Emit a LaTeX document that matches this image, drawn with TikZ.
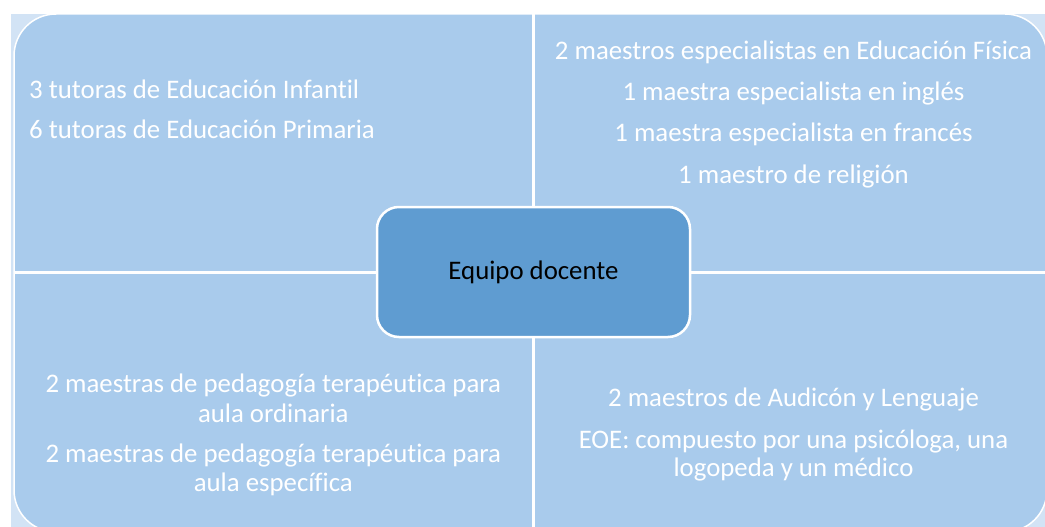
\documentclass[tikz,border=0pt]{standalone}
\usepackage{fontspec}
\setmainfont{Carlito}[Ligatures=NoCommon]
\definecolor{palebg}{HTML}{D2E3F5}
\definecolor{quadfill}{HTML}{A9CBEC}
\definecolor{centerfill}{HTML}{5F9CD1}
\tikzset{
  qtext/.style={anchor=base, text=white, inner sep=0pt, font=\fontsize{26.8}{30}\selectfont},
  qtextl/.style={qtext, anchor=base west},
  centerbox/.style={draw=white, line width=2.5pt, fill=centerfill, rounded corners=22pt,
    minimum width=313pt, minimum height=130pt, inner sep=0pt, text=black,
    font=\fontsize{26.8}{30}\selectfont},
}
\begin{document}
\begin{tikzpicture}[x=1pt,y=-1pt]
\useasboundingbox (0,0) rectangle (1045,527);
\clip (0,0) rectangle (1045,527);
\fill[palebg] (11,14) rectangle (1070,560);
\path[fill=quadfill, draw=white, line width=1.5pt, rounded corners=42pt] (14,14) rectangle (1047,532);
\coordinate (vtop) at (533.2,14);
\coordinate (vbot) at (533.2,532);
\coordinate (hleft) at (14,272.2);
\coordinate (hright) at (1047,272.2);
\draw[white, line width=3pt] (vtop) -- (vbot);
\draw[white, line width=3pt] (hleft) -- (hright);
% top left
\node[qtextl] (tl1) at (29,98.3) {3 tutoras de Educación Infantil};
\node[qtextl] (tl2) at (29,138.3) {6 tutoras de Educación Primaria};
% top right
\node[qtext] (tr1) at (793.5,60) {2 maestros especialistas en Educación Física};
\node[qtext] (tr2) at (793.5,101) {1 maestra especialista en inglés};
\node[qtext] (tr3) at (793.5,142) {1 maestra especialista en francés};
\node[qtext] (tr4) at (793.5,183) {1 maestro de religión};
% bottom left
\node[qtext] (bl1) at (273.3,392.7) {2 maestras de pedagogía terapéutica para};
\node[qtext] (bl2) at (273.3,422.3) {aula ordinaria};
\node[qtext] (bl3) at (273.3,462.7) {2 maestras de pedagogía terapéutica para};
\node[qtext] (bl4) at (273.3,491.7) {aula específica};
% bottom right
\node[qtext] (br1) at (793.5,406.7) {2 maestros de Audicón y Lenguaje};
\node[qtext] (br2) at (793.5,448.3) {EOE: compuesto por una psicóloga, una};
\node[qtext] (br3) at (793.5,476.7) {logopeda y un médico};
% center
\node[centerbox] (center) at (533.5,272) {Equipo docente};
\end{tikzpicture}
\end{document}
